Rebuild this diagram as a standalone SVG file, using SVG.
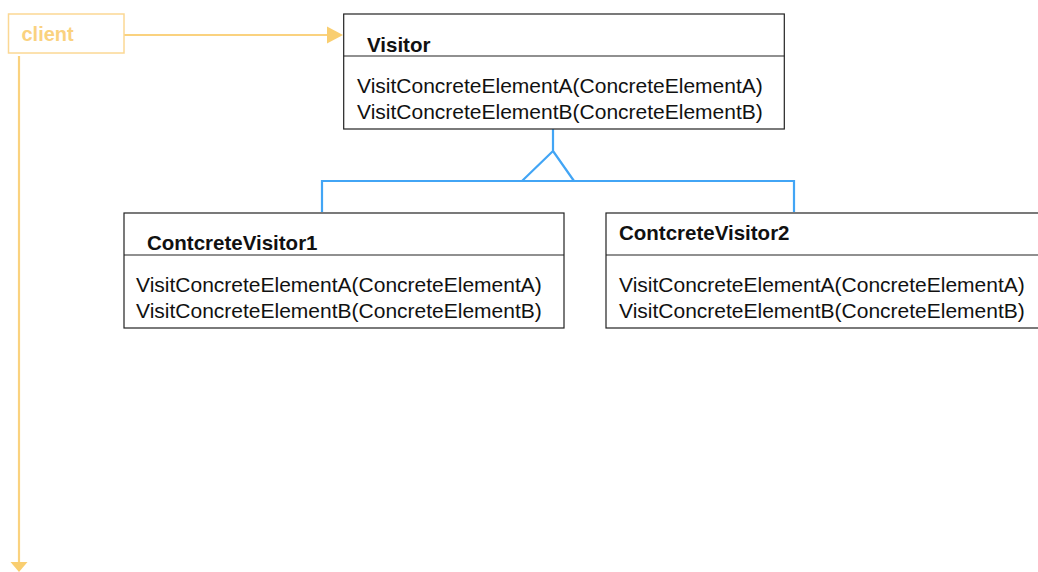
<svg xmlns="http://www.w3.org/2000/svg" width="1038" height="572" viewBox="0 0 1038 572">
<style>
.box{fill:#fff;stroke:#222;stroke-width:1.2}
.div{stroke:#222;stroke-width:1.2}
.t{font-family:"Liberation Sans",Arial,sans-serif;font-size:21px;fill:#111}
.b{font-weight:bold;font-size:20.5px}
.inh{fill:none;stroke:#42A5F5;stroke-width:2.2}
.cl{fill:none;stroke:#FAD27F;stroke-width:2.2}
</style>
<rect width="1038" height="572" fill="#fff"/>
<g id="connectors">
<path class="cl" d="M124,35 H328"/>
<path d="M327,26.5 L343,35 L327,43.5 Z" fill="#F9CE70"/>
<path class="cl" d="M19,56 V563"/>
<path d="M10.5,562 L27.5,562 L19,572 Z" fill="#F9CE70"/>
<path class="inh" d="M553,129 V151 M553,151 L522,181 M553,151 L574,181 M322,212 V181 H794 V212"/>
</g>
<g id="client">
<rect x="8.5" y="14" width="115.5" height="39" fill="#fff" stroke="#FBD894" stroke-width="1.5"/>
<text class="t b" x="21.5" y="40.5" style="fill:#FAD27F;font-size:20px">client</text>
</g>
<g id="visitor">
<rect class="box" x="343.7" y="14" width="440.6" height="115"/>
<line class="div" x1="343.7" y1="56" x2="784.3" y2="56"/>
<text class="t b" x="367" y="52">Visitor</text>
<text class="t" x="357" y="93">VisitConcreteElementA(ConcreteElementA)</text>
<text class="t" x="357" y="119">VisitConcreteElementB(ConcreteElementB)</text>
</g>
<g id="concreteVisitor1">
<rect class="box" x="124" y="213" width="440" height="115"/>
<line class="div" x1="124" y1="255" x2="564" y2="255"/>
<text class="t b" x="147" y="250">ContcreteVisitor1</text>
<text class="t" x="136" y="292">VisitConcreteElementA(ConcreteElementA)</text>
<text class="t" x="136" y="318">VisitConcreteElementB(ConcreteElementB)</text>
</g>
<g id="concreteVisitor2">
<rect class="box" x="606" y="213" width="440" height="115"/>
<line class="div" x1="606" y1="255" x2="1046" y2="255"/>
<text class="t b" x="619" y="239.5">ContcreteVisitor2</text>
<text class="t" x="619" y="292">VisitConcreteElementA(ConcreteElementA)</text>
<text class="t" x="619" y="318">VisitConcreteElementB(ConcreteElementB)</text>
</g>
</svg>
